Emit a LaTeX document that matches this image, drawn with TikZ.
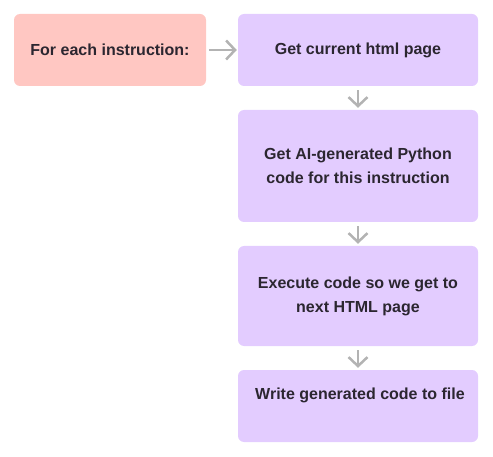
\documentclass[tikz,border=0pt]{standalone}
\usepackage{fontspec}
\setmainfont{Liberation Sans}
\usetikzlibrary{arrows.meta}
\definecolor{pinkbox}{HTML}{FFC7C2}
\definecolor{purplebox}{HTML}{E3CCFF}
\definecolor{txt}{HTML}{2B2630}
\definecolor{arr}{HTML}{B3B3B3}
\tikzset{
  box/.style={rectangle, rounded corners=6pt, minimum width=240pt, inner sep=0pt,
    fill=purplebox, text=txt, align=center,
    font=\fontsize{16pt}{24pt}\selectfont\bfseries},
  startbox/.style={box, fill=pinkbox, minimum width=192pt},
  flow/.style={draw=arr, line width=2.5pt,
    -{Straight Barb[length=9pt 0 0, width=19pt 0 0]}},
}
\begin{document}
\begin{tikzpicture}[x=1pt,y=1pt]
\useasboundingbox (0,0) rectangle (493,456);
\node[startbox, minimum height=72pt] (start) at (110,406) {For each instruction:};
\node[box, minimum height=72pt] (b1) at (358,406) {Get current html page};
\node[box, minimum height=112pt] (b2) at (358,290) {Get AI-generated Python\\code for this instruction};
\node[box, minimum height=100pt] (b3) at (358,160) {Execute code so we get to\\next HTML page};
\node[box, minimum height=72pt] (b4) at (358,50) {};
\node[text=txt, font=\fontsize{16pt}{24pt}\selectfont\bfseries, inner sep=0pt] (t4) at (360,61) {Write generated code to file};
\draw[flow, shorten <=3pt, shorten >=1pt] (start.east) -- (b1.west);
\draw[flow, shorten <=4pt, shorten >=2pt] (b1.south) -- (b2.north);
\draw[flow, shorten <=4pt, shorten >=2pt] (b2.south) -- (b3.north);
\draw[flow, shorten <=4pt, shorten >=2pt] (b3.south) -- (b4.north);
\end{tikzpicture}
\end{document}
